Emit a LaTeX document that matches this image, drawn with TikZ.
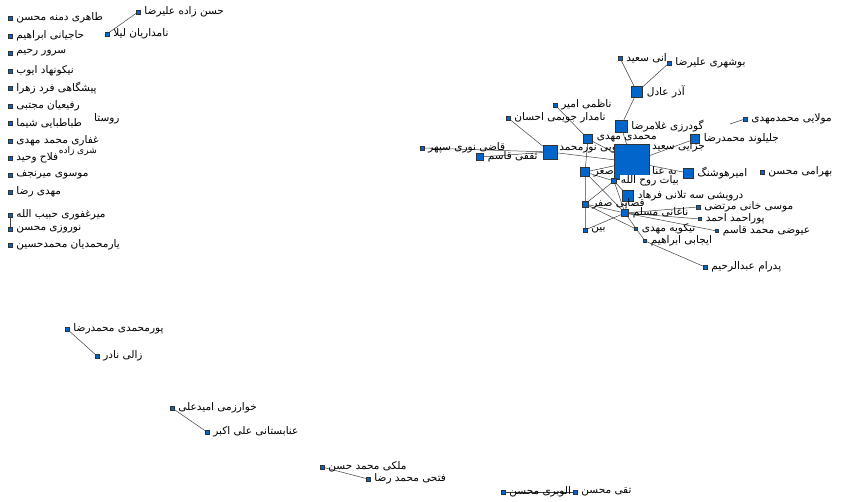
\documentclass[tikz,border=0pt]{standalone}
\usepackage{fontspec}
\usetikzlibrary{backgrounds}
\newfontfamily\arabicfont[Script=Arabic]{DejaVu Sans}
\TeXXeTstate=1
\definecolor{netblue}{RGB}{0,102,204}

\begin{document}
\begin{tikzpicture}[x=1pt, y=-1pt,
    actor/.style={draw=black!80, fill=netblue, inner sep=0pt, minimum size=#1, line width=0.4pt},
    actor/.default=4pt,
    lbl/.style={font=\arabicfont\fontsize{10.5}{11}\selectfont, inner sep=1pt, text=black},
    every label/.style={lbl},
    label distance=3pt,
    tie/.style={draw=black!75, line width=0.5pt}
    ]
    \useasboundingbox (0,0) rectangle (844,502);

    % Isolated actors, left column
    \node[actor, label=right:{\beginR طاهری دمنه محسن\endR}] (taheri) at (10,18) {};
    \node[actor, label=right:{\beginR حاجیانی ابراهیم\endR}] (hajiani) at (10,36) {};
    \node[actor, label=right:{\beginR سرور رحیم\endR}] (sorour) at (10,53) {};
    \node[actor, label=right:{\beginR نیکونهاد ایوب\endR}] (nikoonahad) at (10,71) {};
    \node[actor, label=right:{\beginR پیشگاهی فرد زهرا\endR}] (pishgahi) at (10,88) {};
    \node[actor, label=right:{\beginR رفیعیان مجتبی\endR}] (rafieian) at (10,106) {};
    \node[actor, label=right:{\beginR طباطبایی شیما\endR}] (tabatabaei) at (10,123) {};
    \node[lbl, anchor=west] (roosta) at (93,119) {\beginR روستا\endR};
    \node[actor, label=right:{\beginR غفاری محمد مهدی\endR}] (ghaffari) at (10,141) {};
    \node[lbl, anchor=east, font=\arabicfont\fontsize{9}{10}\selectfont] (shari) at (98,151) {\beginR شری زاده\endR};
    \node[actor, label=right:{\beginR فلاح وحید\endR}] (fallah) at (10,158) {};
    \node[actor, label=right:{\beginR موسوی میرنجف\endR}] (mousavi) at (10,175) {};
    \node[actor, label=right:{\beginR مهدی رضا\endR}] (mahdi) at (10,192) {};
    \node[actor, label=right:{\beginR میرغفوری حبیب الله\endR}] (mirghafouri) at (10,215) {};
    \node[actor, label=right:{\beginR نوروزی محسن\endR}] (nowroozi) at (10,229) {};
    \node[actor, label=right:{\beginR یارمحمدیان محمدحسین\endR}] (yarmohammadian) at (10,245) {};

    % Pairs
    \node[actor, label=right:{\beginR حسن زاده علیرضا\endR}] (hasanzadeh) at (138,12) {};
    \node[actor, label=right:{\beginR نامداریان لیلا\endR}] (namdarian) at (107,34) {};
    \node[actor, label=right:{\beginR پورمحمدی محمدرضا\endR}] (pourmohammadi) at (67,329) {};
    \node[actor, label=right:{\beginR زالی نادر\endR}] (zali) at (97,356) {};
    \node[actor, label=right:{\beginR خوارزمی امیدعلی\endR}] (kharazmi) at (172,408) {};
    \node[actor, label=right:{\beginR عنابستانی علی اکبر\endR}] (annabestani) at (207,432) {};
    \node[actor, label=right:{\beginR ملکی محمد حسن\endR}] (maleki) at (322,467) {};
    \node[actor, label=right:{\beginR فتحی محمد رضا\endR}] (fathi) at (368,479) {};
    \node[actor, label=right:{\beginR الوبری محسن\endR}] (alvari) at (503,492) {};
    \node[actor, label=right:{\beginR تقی محسن\endR}] (taghi) at (575,492) {};

    % Main component
    \node[actor, label=right:{\beginR بوشهری علیرضا\endR}] (boushehri) at (669,63) {};
    \node[actor, label=right:{\beginR انی سعید\endR}] (saeed) at (620,58) {};
    \node[actor=11pt, label=right:{\beginR آذر عادل\endR}] (azar) at (637,92) {};
    \node[actor=12pt, label=right:{\beginR گودرزی غلامرضا\endR}] (goudarzi) at (621,126) {};
    \node[actor, label=right:{\beginR ناظمی امیر\endR}] (nazemi) at (555,105) {};
    \node[actor, label=right:{\beginR نامدار جویمی احسان\endR}] (namdar) at (508,118) {};
    \node[actor=9pt, label=right:{\beginR محمدی مهدی\endR}] (mohammadi) at (588,139) {};
    \node[actor=7pt, label=right:{\beginR ثقفی قاسم\endR}] (saghafi) at (480,157) {};
    \node[actor, label=right:{\beginR قاضی نوری سپهر\endR}] (ghazi) at (422,148) {};
    \node[actor=14pt, label={[xshift=-2pt, yshift=3pt]right:{\beginR یعقوبی نورمحمد\endR}}] (yaghoubi) at (550,152) {};
    \node[actor=9pt, label=right:{\beginR اصغر\endR}] (asghar) at (585,172) {};
    \node[actor=35pt] (hub) at (632,162) {};
    \node[lbl, anchor=west] (jazayi) at (651,147) {\beginR جزایی سعید\endR};
    \node[lbl, anchor=west] (beh) at (651,171) {\beginR به عنا\endR};
    \node[actor=5pt, label={[fill=white]right:{\beginR بیات روح الله\endR}}] (bayat) at (614,181) {};
    \node[actor=11pt, label=right:{\beginR درویشی سه تلانی فرهاد\endR}] (darvishi) at (628,196) {};
    \node[actor=6pt, label=right:{\beginR قضایی صفر\endR}] (ghazaei) at (585,204) {};
    \node[actor=7pt, label=right:{\beginR ناغانی مسلم\endR}] (naghani) at (625,213) {};
    \node[actor, label=right:{\beginR موسی خانی مرتضی\endR}] (mousakhani) at (698,207) {};
    \node[actor=3pt, label=right:{\beginR پوراحمد احمد\endR}] (pourahmad) at (700,219) {};
    \node[actor=3pt, label=right:{\beginR عیوضی محمد قاسم\endR}] (eivazi) at (717,231) {};
    \node[actor=3pt, label=right:{\beginR نیکویه مهدی\endR}] (nikouyeh) at (636,229) {};
    \node[actor=3pt, label=right:{\beginR ایجابی ابراهیم\endR}] (ijabi) at (645,241) {};
    \node[actor, label=right:{\beginR بین\endR}] (yamin) at (585,230) {};
    \node[actor, label=right:{\beginR پدرام عبدالرحیم\endR}] (pedram) at (705,267) {};
    \node[actor=10pt, label=right:{\beginR امیرهوشنگ\endR}] (amirhooshang) at (688,173) {};
    \node[actor, label=right:{\beginR بهرامی محسن\endR}] (bahrami) at (762,172) {};
    \node[actor=9pt, label=right:{\beginR جلیلوند محمدرضا\endR}] (jalilvand) at (695,139) {};
    \node[actor, label=right:{\beginR مولایی محمدمهدی\endR}] (molaei) at (745,119) {};
    \coordinate (molaeitail) at (730,124);

    % Ties
    \begin{scope}[on background layer]
    \draw[tie] (mirghafouri) -- (nowroozi);
    \draw[tie] (hasanzadeh) -- (namdarian);
    \draw[tie] (pourmohammadi) -- (zali);
    \draw[tie] (kharazmi) -- (annabestani);
    \draw[tie] (maleki) -- (fathi);
    \draw[tie] (alvari) -- (taghi);

    \draw[tie] (saeed) -- (azar);
    \draw[tie] (boushehri) -- (azar);
    \draw[tie] (azar) -- (goudarzi);
    \draw[tie] (goudarzi) -- (hub);
    \draw[tie] (nazemi) -- (mohammadi);
    \draw[tie] (namdar) -- (yaghoubi);
    \draw[tie] (ghazi) -- (yaghoubi);
    \draw[tie] (saghafi) -- (yaghoubi);
    \draw[tie] (yaghoubi) -- (hub);
    \draw[tie] (mohammadi) -- (hub);
    \draw[tie] (mohammadi) -- (asghar);
    \draw[tie] (asghar) -- (hub);
    \draw[tie] (asghar) -- (bayat);
    \draw[tie] (asghar) -- (naghani);
    \draw[tie] (bayat) -- (hub);
    \draw[tie] (bayat) -- (darvishi);
    \draw[tie] (bayat) -- (ghazaei);
    \draw[tie] (bayat) -- (naghani);
    \draw[tie, gray] (asghar) -- (ghazaei);
    \draw[tie, gray] (ghazaei) -- (yamin);
    \draw[tie] (ghazaei) -- (naghani);
    \draw[tie] (ghazaei) -- (nikouyeh);
    \draw[tie] (yamin) -- (naghani);
    \draw[tie] (naghani) -- (mousakhani);
    \draw[tie] (naghani) -- (pourahmad);
    \draw[tie] (naghani) -- (eivazi);
    \draw[tie] (naghani) -- (ijabi);
    \draw[tie] (darvishi) -- (naghani);
    \draw[tie] (ijabi) -- (pedram);
    \draw[tie] (hub) -- (jalilvand);
    \draw[tie] (hub) -- (amirhooshang);
    \draw[tie] (molaei) -- (molaeitail);
    \end{scope}

\end{tikzpicture}
\end{document}
